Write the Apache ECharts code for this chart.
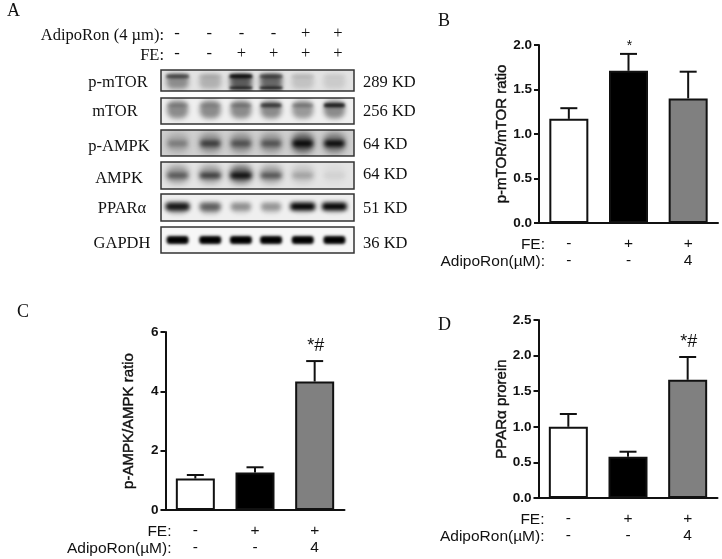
<!DOCTYPE html>
<html>
<head>
<meta charset="utf-8">
<title>Western blot and ratios</title>
<style>
  html, body { margin: 0; padding: 0; background: #fff; }
  #main { width: 722px; height: 559px; }
</style>
<script src="https://cdn.jsdelivr.net/npm/echarts@6/dist/echarts.min.js"></script>
</head>
<body>
<div id="main"></div>
<script>
// blot: lanes and band strength (0-1)
var laneAdipo = ["-", "-", "-", "-", "+", "+"];
var laneFE = ["-", "-", "+", "+", "+", "+"];
var blotNames = ["p-mTOR", "mTOR", "p-AMPK", "AMPK", "PPARα", "GAPDH"];
var blotSizes = ["289 KD", "256 KD", "64 KD", "64 KD", "51 KD", "36 KD"];
var pMtorCore = [0.6, 0.08, 0.95, 0.55, 0.08, 0.02];
var pMtorLower = [0, 0, 0.9, 0.9, 0, 0];
var pMtorSmear = [0.38, 0.22, 0.6, 0.55, 0.14, 0.1];
var mTorCore = [0.15, 0.1, 0.2, 0.65, 0.25, 0.85];
var mTorSmear = [0.42, 0.42, 0.42, 0.42, 0.36, 0.42];
var pAmpkCore = [0.3, 0.65, 0.5, 0.5, 1, 1];
var pAmpkSmear = [0.18, 0.3, 0.3, 0.28, 0.55, 0.42];
var ampkCore = [0.5, 0.7, 1, 0.55, 0.2, 0.05];
var ampkSmear = [0.32, 0.32, 0.55, 0.3, 0.14, 0.04];
var pparCore = [0.9, 0.5, 0.35, 0.32, 1, 1];
var pparSmear = [0.25, 0.25, 0.1, 0.1, 0.08, 0.08];
var gapdhCore = [1, 1, 1, 1, 1, 1];

// bar panels
var groupFE = ["-", "+", "+"];
var groupAdipo = ["-", "-", "4"];
var mTorRatio = [1.17, 1.71, 1.4];
var mTorSd = [0.12, 0.19, 0.3];
var mTorMarks = ["", "*", ""];
var ampkRatio = [1.06, 1.26, 4.33];
var ampkSd = [0.12, 0.18, 0.69];
var ampkMarks = ["", "", "*#"];
var pparProtein = [1.0, 0.58, 1.66];
var pparSd = [0.18, 0.07, 0.32];
var pparMarks = ["", "", "*#"];

var serif = '"Liberation Serif", serif';
var sans = '"Liberation Sans", Arial, sans-serif';
var ink = "#111";
var barColors = ["#fff", "#000", "#808080"];
// the lanes run slightly narrower than the strip
var laneDrift = [0.5, 1, -0.5, -2.5, -3, -3.5];

var myChart = echarts.init(document.getElementById("main"));

var grids = [];
var xAxes = [];
var yAxes = [];
var series = [];
var texts = [];

function addText(str, x, y, size, align, family) {
  texts.push({
    type: "text",
    x: x,
    y: y + 1.5,
    style: {
      text: str,
      font: size + "px " + family,
      fill: ink,
      textAlign: align,
      textVerticalAlign: "middle",
    },
  });
}

// one blot strip: soft bands made only of the blurred shadow of a shape
// that sits off the canvas, so there is no hard edge
function addBlot(cfg) {
  var idx = grids.length;
  grids.push({
    left: 161,
    top: cfg.top,
    width: 193,
    height: cfg.height,
    show: true,
    backgroundColor: cfg.bg,
    borderColor: "#333",
    borderWidth: 1.5,
  });
  var xAxis = {
    gridIndex: idx,
    type: "category",
    data: [0, 1, 2, 3, 4, 5],
    axisLine: { show: false },
    axisTick: { show: false },
    axisLabel: { show: false },
  };
  if (cfg.header) {
    xAxis.position = "top";
    xAxis.data = laneAdipo.map(function (a, i) {
      return a + "\n" + laneFE[i];
    });
    xAxis.axisLabel = {
      show: true,
      interval: 0,
      margin: 6,
      color: ink,
      fontFamily: serif,
      fontSize: 16.5,
      lineHeight: 20,
    };
  }
  xAxes.push(xAxis);
  yAxes.push({ gridIndex: idx, type: "value", min: 0, max: 1, show: false });

  function layer(values, l) {
    series.push({
      type: "custom",
      xAxisIndex: idx,
      yAxisIndex: idx,
      clip: true,
      silent: true,
      data: values.map(function (v, i) {
        return [i, v];
      }),
      renderItem: function (params, api) {
        var i = api.value(0);
        var a = api.value(1);
        var c = api.coord([i, l.y]);
        var w = l.w * (cfg.scaleWidth ? 0.72 + 0.28 * a : 1);
        var away = 3000;
        return {
          type: "rect",
          shape: {
            x: c[0] + laneDrift[i] - w / 2 - away,
            y: c[1] - l.h / 2,
            width: w,
            height: l.h,
            r: l.h / 2.5,
          },
          style: {
            fill: "#000",
            shadowBlur: l.blur,
            shadowOffsetX: away,
            shadowColor: "rgba(0,0,0," + a + ")",
          },
        };
      },
    });
  }
  if (cfg.smear) {
    layer(cfg.smear, cfg.smearStyle);
  }
  if (cfg.lower) {
    layer(cfg.lower, cfg.lowerStyle);
  }
  layer(cfg.core, cfg.coreStyle);
}

addBlot({ top: 70, height: 21, bg: "#e2e2e2", core: pMtorCore, coreStyle: { y: 0.7, h: 4, w: 23, blur: 3 }, smear: pMtorSmear, smearStyle: { y: 0.45, h: 15, w: 22, blur: 5 }, lower: pMtorLower, lowerStyle: { y: 0.14, h: 3, w: 23, blur: 3 }, header: true });
addBlot({ top: 98, height: 26, bg: "#efefef", core: mTorCore, coreStyle: { y: 0.72, h: 4, w: 21, blur: 3 }, smear: mTorSmear, smearStyle: { y: 0.56, h: 18, w: 21, blur: 5 } });
addBlot({ top: 130, height: 26, bg: "#cfcfcf", core: pAmpkCore, coreStyle: { y: 0.48, h: 6, w: 20, blur: 4 }, smear: pAmpkSmear, smearStyle: { y: 0.5, h: 20, w: 22, blur: 6 } });
addBlot({ top: 162, height: 27, bg: "#e4e4e4", core: ampkCore, coreStyle: { y: 0.5, h: 5, w: 21, blur: 4 }, smear: ampkSmear, smearStyle: { y: 0.55, h: 18, w: 22, blur: 6 } });
addBlot({ top: 194, height: 27, bg: "#efefef", core: pparCore, coreStyle: { y: 0.54, h: 8, w: 25, blur: 4 }, smear: pparSmear, smearStyle: { y: 0.45, h: 10, w: 22, blur: 5 }, scaleWidth: true });
addBlot({ top: 227, height: 26, bg: "#f7f7f7", core: gapdhCore, coreStyle: { y: 0.5, h: 8, w: 22, blur: 3 } });

// bar panel with upper error bars and significance marks
function addBars(cfg) {
  var idx = grids.length;
  grids.push({ left: cfg.left, top: cfg.top, width: 179, height: 178 });
  xAxes.push({
    gridIndex: idx,
    type: "category",
    data: groupFE.map(function (f, i) {
      return f + "\n" + groupAdipo[i];
    }),
    axisLine: { lineStyle: { color: ink, width: 2 } },
    axisTick: { alignWithLabel: true, length: 5, lineStyle: { color: ink, width: 2 } },
    axisLabel: {
      interval: 0,
      margin: 12.5,
      color: ink,
      fontFamily: sans,
      fontSize: 15.5,
      lineHeight: 17,
    },
  });
  yAxes.push({
    gridIndex: idx,
    type: "value",
    min: 0,
    max: cfg.max,
    interval: cfg.step,
    name: cfg.name,
    nameLocation: "middle",
    nameGap: 29.5,
    nameRotate: 90,
    nameMoveOverlap: false,
    nameTextStyle: {
      color: ink,
      fontFamily: sans,
      fontSize: 15,
      textBorderColor: ink,
      textBorderWidth: 0.4,
    },
    axisLine: { show: true, lineStyle: { color: ink, width: 2 } },
    axisTick: { show: true, length: 5, lineStyle: { color: ink, width: 2 } },
    axisLabel: {
      margin: 7,
      color: ink,
      fontFamily: sans,
      fontSize: 13.5,
      fontWeight: "bold",
      formatter: function (v) {
        return v.toFixed(cfg.digits);
      },
    },
    splitLine: { show: false },
  });
  series.push({
    type: "bar",
    xAxisIndex: idx,
    yAxisIndex: idx,
    barWidth: 39,
    data: cfg.values.map(function (v, i) {
      return {
        value: v,
        itemStyle: { color: barColors[i], borderColor: ink, borderWidth: 2 },
      };
    }),
  });
  series.push({
    type: "custom",
    xAxisIndex: idx,
    yAxisIndex: idx,
    z: 3,
    silent: true,
    data: cfg.values.map(function (v, i) {
      return [i, v, v + cfg.sd[i]];
    }),
    renderItem: function (params, api) {
      var base = api.coord([api.value(0), api.value(1)]);
      var top = api.coord([api.value(0), api.value(2)]);
      var lineStyle = { stroke: ink, lineWidth: 2 };
      return {
        type: "group",
        children: [
          { type: "line", shape: { x1: base[0], y1: base[1], x2: top[0], y2: top[1] }, style: lineStyle },
          { type: "line", shape: { x1: top[0] - 8.5, y1: top[1], x2: top[0] + 8.5, y2: top[1] }, style: lineStyle },
          {
            type: "text",
            x: top[0] + 1,
            y: top[1] - cfg.markGap,
            style: {
              text: cfg.marks[params.dataIndex],
              font: cfg.markSize + "px " + sans,
              fill: ink,
              textAlign: "center",
              textVerticalAlign: "middle",
            },
          },
        ],
      };
    },
  });
  addText("FE:", cfg.left + 6, cfg.top + 198, 15.5, "right", sans);
  addText("AdipoRon(µM):", cfg.left + 6, cfg.top + 215, 15.5, "right", sans);
}

addBars({ left: 539, top: 45, max: 2, step: 0.5, digits: 1, name: "p-mTOR/mTOR ratio", values: mTorRatio, sd: mTorSd, marks: mTorMarks, markGap: 8, markSize: 14 });
addBars({ left: 165.5, top: 332, max: 6, step: 2, digits: 0, name: "p-AMPK/AMPK ratio", values: ampkRatio, sd: ampkSd, marks: ampkMarks, markGap: 15, markSize: 18 });
addBars({ left: 538.5, top: 320, max: 2.5, step: 0.5, digits: 1, name: "PPARα prorein", values: pparProtein, sd: pparSd, marks: pparMarks, markGap: 15, markSize: 18 });

// panel letters and blot captions
addText("A", 7, 10, 18, "left", serif);
addText("B", 438, 20, 18, "left", serif);
addText("C", 17, 311, 18, "left", serif);
addText("D", 438, 324, 18, "left", serif);
addText("AdipoRon (4 µm):", 164, 34, 16.5, "right", serif);
addText("FE:", 164, 54, 16.5, "right", serif);

var nameX = [118, 115, 119, 119, 122, 122];
var nameY = [81, 110, 145, 177, 207, 242];
var sizeY = [81, 110, 143, 173, 207, 242];
blotNames.forEach(function (n, i) {
  addText(n, nameX[i], nameY[i], 16.5, "center", serif);
  addText(blotSizes[i], 363, sizeY[i], 16.5, "left", serif);
});

var option = {
  animation: false,
  backgroundColor: "#fff",
  tooltip: { show: false },
  grid: grids,
  xAxis: xAxes,
  yAxis: yAxes,
  series: series,
  graphic: { elements: texts },
};
myChart.setOption(option);
</script>
</body>
</html>
